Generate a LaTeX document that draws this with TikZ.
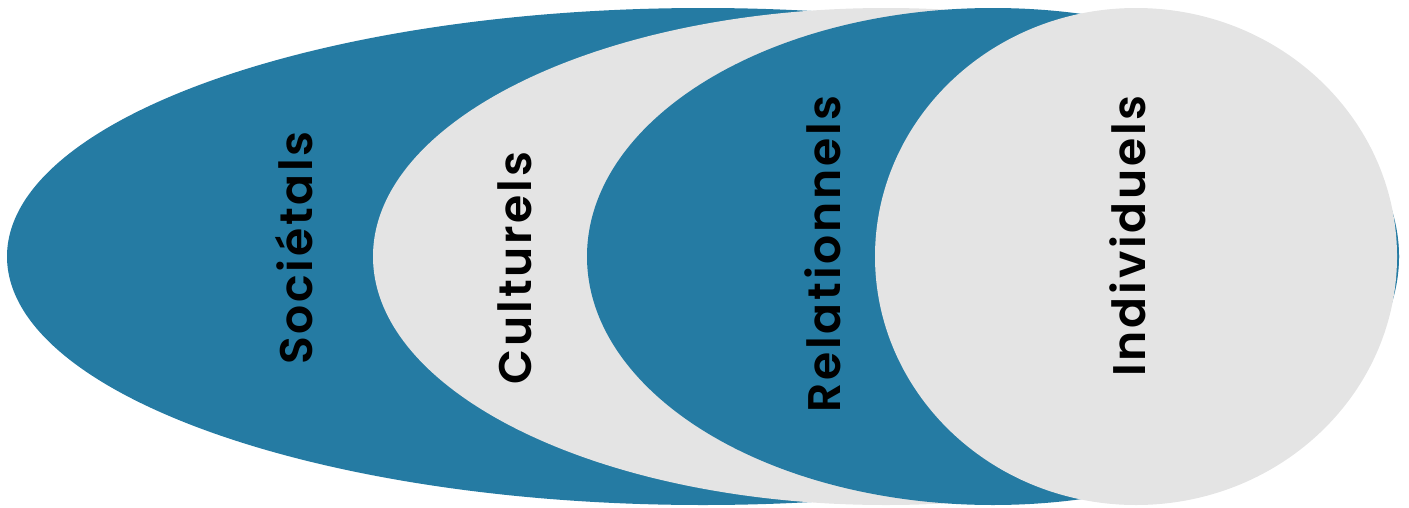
\documentclass[tikz,border=0pt]{standalone}
\usepackage{fontspec}
\setmainfont{Poppins}[UprightFont=* SemiBold, LetterSpace=6]
\definecolor{ringblue}{RGB}{37,123,163}
\definecolor{ringgrey}{RGB}{228,228,228}
\begin{document}
\begin{tikzpicture}[x=0.02cm, y=-0.02cm,
  bluering/.style={fill=ringblue},
  greyring/.style={fill=ringgrey},
  ringlabel/.style={rotate=90, font=\fontsize{26}{28}\selectfont, text=black, inner sep=0pt}]
  \useasboundingbox (0,0) rectangle (1409,507);
  % Rings
  \fill[bluering] (703,256.5) ellipse [x radius=696, y radius=248.5];
  \fill[greyring] (886,256.5) ellipse [x radius=513, y radius=248.5];
  \fill[bluering] (993,256.5) ellipse [x radius=406, y radius=248.5];
  \fill[greyring] (1136,256.5) ellipse [x radius=261, y radius=248.5];
  % Labels
  \node[ringlabel] at (294,248) (soc) {Sociétals};
  \node[ringlabel] at (515,268) (cul) {Culturels};
  \node[ringlabel] at (823,254) (rel) {Relationnels};
  \node[ringlabel] at (1128,236) (ind) {Individuels};
\end{tikzpicture}
\end{document}
